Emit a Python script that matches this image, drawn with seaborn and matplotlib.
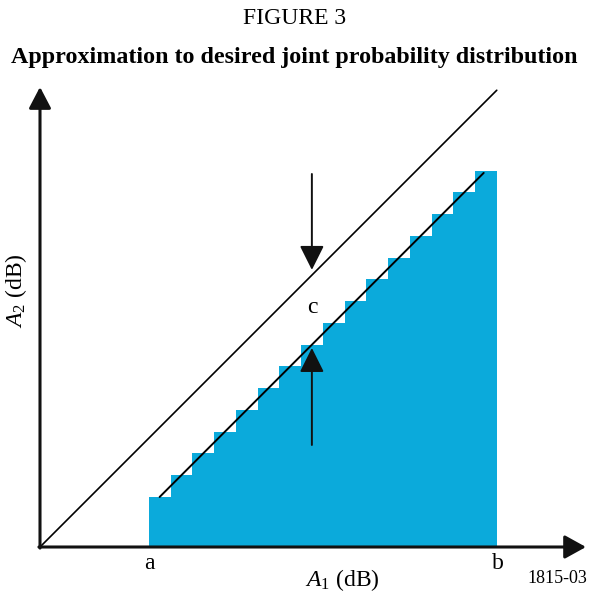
import matplotlib
matplotlib.use("Agg")
import matplotlib.pyplot as plt
import seaborn as sns
import numpy as np

sns.set_theme(style="white")
plt.rcParams['font.family'] = ['Liberation Serif', 'DejaVu Serif']
plt.rcParams['text.color'] = 'black'
plt.rcParams['mathtext.fontset'] = 'custom'
plt.rcParams['mathtext.rm'] = 'Liberation Serif'
plt.rcParams['mathtext.it'] = 'Liberation Serif:italic'

# ---- data ----
step_edges = [5, 6, 7, 8, 9, 10, 11, 12, 13, 14, 15, 16, 17, 18, 19, 20, 21]
step_heights = [2.3, 3.3, 4.3, 5.3, 6.3, 7.3, 8.3, 9.3, 10.3, 11.3, 12.3, 13.3, 14.3, 15.3, 16.3, 17.3]
diag_x = [0, 21]
diag_y = [0, 21]
inner_x = [5.5, 20.4]
inner_y = [2.3, 17.2]
tick_pos = [5, 21]
tick_labels = ['a', 'b']
fill_color = '#0BAADB'

S = 21.75  # pixels per data unit

fig = plt.figure(figsize=(5.91, 6.02), dpi=100)
ax = fig.add_axes([0, 0, 1, 1])

centers = [(step_edges[i] + step_edges[i + 1]) / 2 for i in range(len(step_heights))]
sns.histplot(x=centers, weights=step_heights, bins=step_edges, element='step',
             fill=True, color=fill_color, alpha=1, linewidth=0, ax=ax)

sns.lineplot(x=diag_x, y=diag_y, color='black', linewidth=1.2, ax=ax)
sns.lineplot(x=inner_x, y=inner_y, color='black', linewidth=1.4, ax=ax)

ax.set_xlim(-40 / S, 551 / S)
ax.set_ylim(-55 / S, 547 / S)
ax.axis('off')

def arrow(x0, y0, x1, y1, lw, hl, hw):
    ax.annotate('', xy=(x1, y1), xytext=(x0, y0),
                arrowprops=dict(arrowstyle=f'-|>,head_length={hl},head_width={hw}',
                                mutation_scale=10, color='#111111', lw=lw,
                                shrinkA=0, shrinkB=0))

# axes
arrow(0, -0.05, 0, 21.15, 2.2, 1.3, 0.68)
arrow(-0.05, 0, 25.1, 0, 2.2, 1.3, 0.72)
# c arrows
arrow(12.5, 17.15, 12.5, 12.74, 1.4, 1.5, 0.75)
arrow(12.5, 4.69, 12.5, 9.15, 1.4, 1.5, 0.75)

ax.text(12.5, 11.03, 'c', ha='center', va='center', fontsize=17, color='black')
for p, l in zip(tick_pos, tick_labels):
    ax.text(p + 0.05, -0.74, l, ha='center', va='center', fontsize=17, color='black')
ax.text(23.77, -1.43, '1815-03', ha='center', va='center', fontsize=13, color='black')
ax.text(13.9, -1.52, r'$A_1$ (dB)', ha='center', va='center', fontsize=17, color='black')
ax.text(-1.10, 11.8, r'$A_2$ (dB)', ha='center', va='center', fontsize=17, rotation=90,
        color='black')

fig.text(295 / 591, 1 - 18 / 602, 'FIGURE 3', ha='center', va='center', fontsize=17,
         color='black')
fig.text(294 / 591, 1 - 57.5 / 602, 'Approximation to desired joint probability distribution',
         ha='center', va='center', fontsize=17.3, fontweight='bold', color='black')

fig.savefig('out.png', dpi=100)
